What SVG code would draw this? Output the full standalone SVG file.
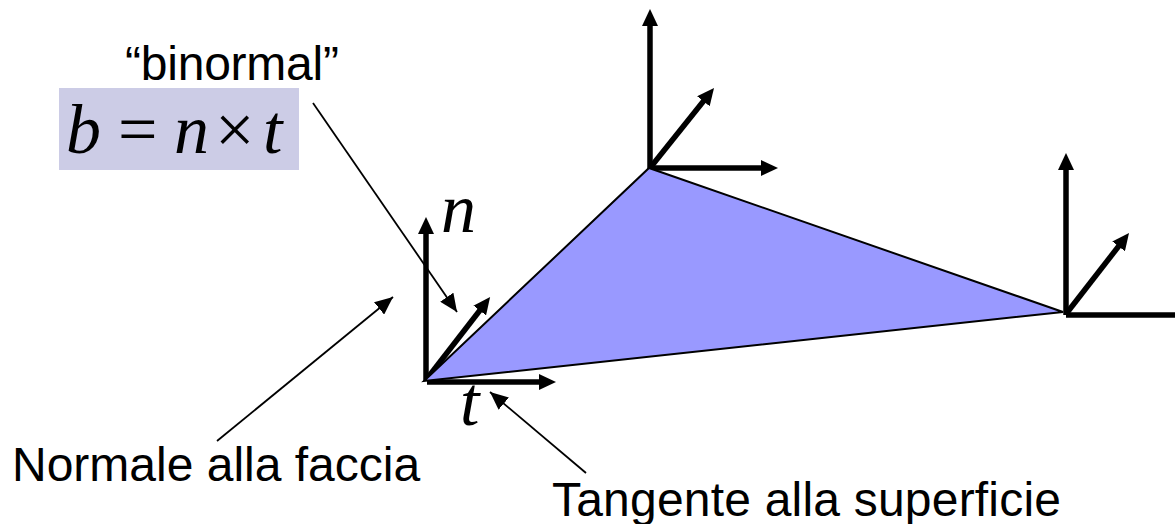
<svg xmlns="http://www.w3.org/2000/svg" width="1175" height="524" viewBox="0 0 1175 524">
<style>
.thick{fill:none;stroke:#000;stroke-width:5.5}
.thin{fill:none;stroke:#000;stroke-width:1.8}
.sans{font-family:"Liberation Sans",Arial,sans-serif;font-size:48px;fill:#000}
.math{font-family:"Liberation Serif","Times New Roman",serif;font-style:italic;font-size:70px;fill:#000}
.mathu{font-family:"Liberation Serif","Times New Roman",serif;font-size:70px;fill:#000}
</style>
<defs>
<marker id="big" markerUnits="userSpaceOnUse" markerWidth="18" markerHeight="16" refX="8" refY="8" orient="auto"><path d="M0 0L17 8L0 16Z" fill="#000"/></marker>
<marker id="small" markerUnits="userSpaceOnUse" markerWidth="19" markerHeight="16" refX="18" refY="8" orient="auto"><path d="M0 0L18 8L0 16Z" fill="#000"/></marker>
</defs>
<rect id="formula-bg" x="59" y="88" width="240" height="82" fill="#ccccE6"/>
<g id="connectors">
<path class="thick" marker-end="url(#big)" d="M426 381V226"/>
<path class="thick" marker-end="url(#big)" d="M426 380L484.6 304.2"/>
<path class="thick" marker-end="url(#big)" d="M427 382H547"/>
<path class="thick" marker-end="url(#big)" d="M650 169V18"/>
<path class="thick" marker-end="url(#big)" d="M650 168L708.4 95"/>
<path class="thick" marker-end="url(#big)" d="M650 168H769"/>
<path class="thick" marker-end="url(#big)" d="M1066 315V162"/>
<path class="thick" marker-end="url(#big)" d="M1066 314L1123.5 240"/>
<path class="thick" d="M1066 315H1175"/>
<path class="thin" marker-end="url(#small)" d="M313 103L457 312"/>
<path class="thin" marker-end="url(#small)" d="M217 441L393 297"/>
<path class="thin" marker-end="url(#small)" d="M586 473L490 392"/>
</g>
<g id="face"><polygon points="424,381 649,168 1063,312" fill="#9999ff" stroke="#000" stroke-width="2"/></g>
<g id="label-binormal"><text class="sans" x="125" y="80" textLength="214">“binormal”</text></g>
<g id="label-formula"><text class="math" x="66" y="153">b</text><text class="mathu" x="118" y="153">=</text><text class="math" x="174" y="153">n</text><text class="mathu" x="215" y="153">×</text><text class="math" x="263" y="153">t</text></g>
<g id="label-n"><text class="math" x="441" y="232">n</text></g>
<g id="label-t"><text class="math" x="460" y="425">t</text></g>
<g id="label-normale"><text class="sans" x="12" y="481">Normale alla faccia</text></g>
<g id="label-tangente"><text class="sans" x="552" y="516" textLength="509">Tangente alla superficie</text></g>
</svg>
